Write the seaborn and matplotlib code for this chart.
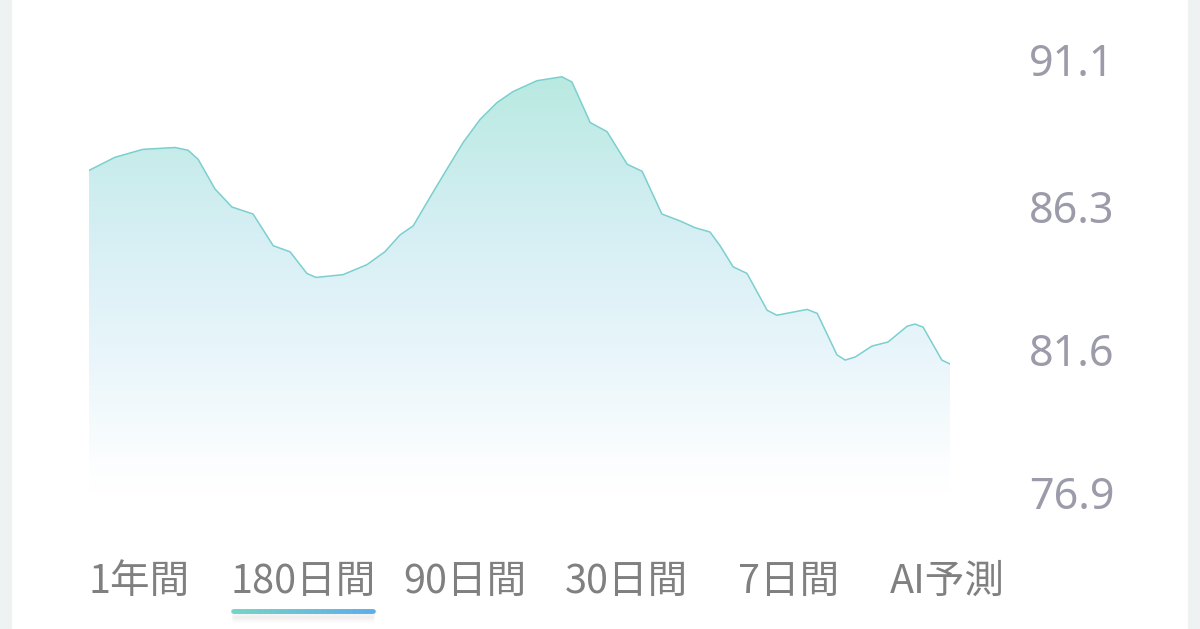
import numpy as np
import pandas as pd
import matplotlib
matplotlib.use("Agg")
import matplotlib.pyplot as plt
from matplotlib.colors import LinearSegmentedColormap
from matplotlib.patches import Rectangle
from matplotlib.collections import LineCollection
import seaborn as sns

# 180日間の推移
days = [0, 5.4, 11.2, 17.9, 20.6, 22.7, 26.2, 29.7, 34.1, 38.3, 41.8, 45.3, 47.2,
        52.8, 57.8, 61.5, 64.7, 67.4, 70.9, 74.4, 77.8, 81.3, 84.8, 88.1, 93.1,
        98.3, 100.4, 104.2, 107.7, 111.9, 115.0, 119.1, 122.9, 126.0, 129.1,
        131.2, 133.9, 136.8, 141.0, 143.0, 149.3, 151.4, 155.5, 157.2, 159.3,
        162.8, 166.1, 170.1, 171.7, 173.4, 177.3, 179]
values = [87.48, 87.91, 88.17, 88.23, 88.14, 87.84, 86.87, 86.28, 86.05, 85.01,
          84.81, 84.10, 83.97, 84.06, 84.39, 84.81, 85.37, 85.66, 86.60, 87.52,
          88.40, 89.15, 89.70, 90.06, 90.42, 90.55, 90.38, 89.05, 88.75, 87.68,
          87.45, 86.05, 85.82, 85.60, 85.46, 85.01, 84.32, 84.10, 82.89, 82.73,
          82.92, 82.79, 81.43, 81.26, 81.36, 81.72, 81.85, 82.37, 82.44, 82.34,
          81.26, 81.13]
y_ticks = [76.9, 81.6, 86.3, 91.1]
tabs = ["1年間", "180日間", "90日間", "30日間", "7日間", "AI予測"]
tab_x = [88, 230, 403, 565, 738, 890]
selected = 1

df = pd.DataFrame({"day": days, "value": values})

sns.set_theme(style="white")
plt.rcParams["font.family"] = ["Noto Sans CJK JP", "Noto Sans", "DejaVu Sans"]

W, H = 1200, 629
fig = plt.figure(figsize=(W / 100, H / 100), dpi=100)
fig.patch.set_facecolor("white")

# 左右の薄いグレーの帯
fig.patches.append(Rectangle((0, 0), 11 / W, 1, transform=fig.transFigure,
                             color="#eef2f2", zorder=0))
fig.patches.append(Rectangle((1188 / W, 0), 12 / W, 1, transform=fig.transFigure,
                             color="#eef2f2", zorder=0))

ax = fig.add_axes([89 / W, (H - 493) / H, (950 - 89) / W, (493 - 60) / H])
ax.set_xlim(0, 179)
ax.set_ylim(y_ticks[0], y_ticks[-1])

# グラデーション塗り
cmap = LinearSegmentedColormap.from_list(
    "fill", [(0.0, "#ffffff"), (0.08, "#fbfdfe"), (0.3, "#eaf6fb"),
             (0.6, "#d6eff4"), (1.0, "#b6e9df")])
grad = np.linspace(0, 1, 256).reshape(-1, 1)
img = ax.imshow(grad, aspect="auto", cmap=cmap, origin="lower",
                extent=[0, 179, y_ticks[0], y_ticks[-1]], zorder=1)
poly = ax.fill_between(df["day"], df["value"], y_ticks[0], color="none")
clip = poly.get_paths()[0]
img.set_clip_path(clip, transform=ax.transData)

sns.lineplot(data=df, x="day", y="value", ax=ax, color="#7ccfcf",
             linewidth=1.1, zorder=3)
for ln in ax.lines:
    ln.set_solid_joinstyle("round")

for s in ax.spines.values():
    s.set_visible(False)
ax.set_xticks([])
ax.set_xlabel("")
ax.set_ylabel("")
ax.yaxis.tick_right()
ax.set_yticks(y_ticks)
ax.set_yticklabels([f"{v:.1f}" for v in y_ticks])
ax.tick_params(axis="y", length=0, pad=57, labelsize=31, labelcolor="#9c9ba9")
for t in ax.get_yticklabels():
    t.set_family(["Noto Sans", "DejaVu Sans"])
ax.grid(False)

# 期間タブ
for i, (lab, x) in enumerate(zip(tabs, tab_x)):
    fig.text(x / W, 1 - 582 / H, lab, ha="left", va="center",
             fontsize=28.5, color="#808080")

# 選択中タブの下線（グラデーション＋影）
ul = fig.add_axes([0, 0, 1, 1], facecolor="none")
ul.set_xlim(0, W)
ul.set_ylim(H, 0)
ul.axis("off")
x0, x1, yl = 233, 373, 611
for k, a in enumerate([0.05, 0.04, 0.03]):
    ul.plot([x0 + 2, x1 - 2], [yl + 4 + k * 2, yl + 4 + k * 2], color="#888888",
            alpha=a, linewidth=5, solid_capstyle="round")
xs = np.linspace(x0, x1, 60)
segs = [[(xs[i], yl), (xs[i + 1], yl)] for i in range(len(xs) - 1)]
ul_cmap = LinearSegmentedColormap.from_list("ul", ["#74d4c6", "#5eaee8"])
lc = LineCollection(segs, colors=ul_cmap(np.linspace(0, 1, len(segs))),
                    linewidths=3.4, capstyle="round")
ul.add_collection(lc)

fig.savefig("out.png", dpi=100)
